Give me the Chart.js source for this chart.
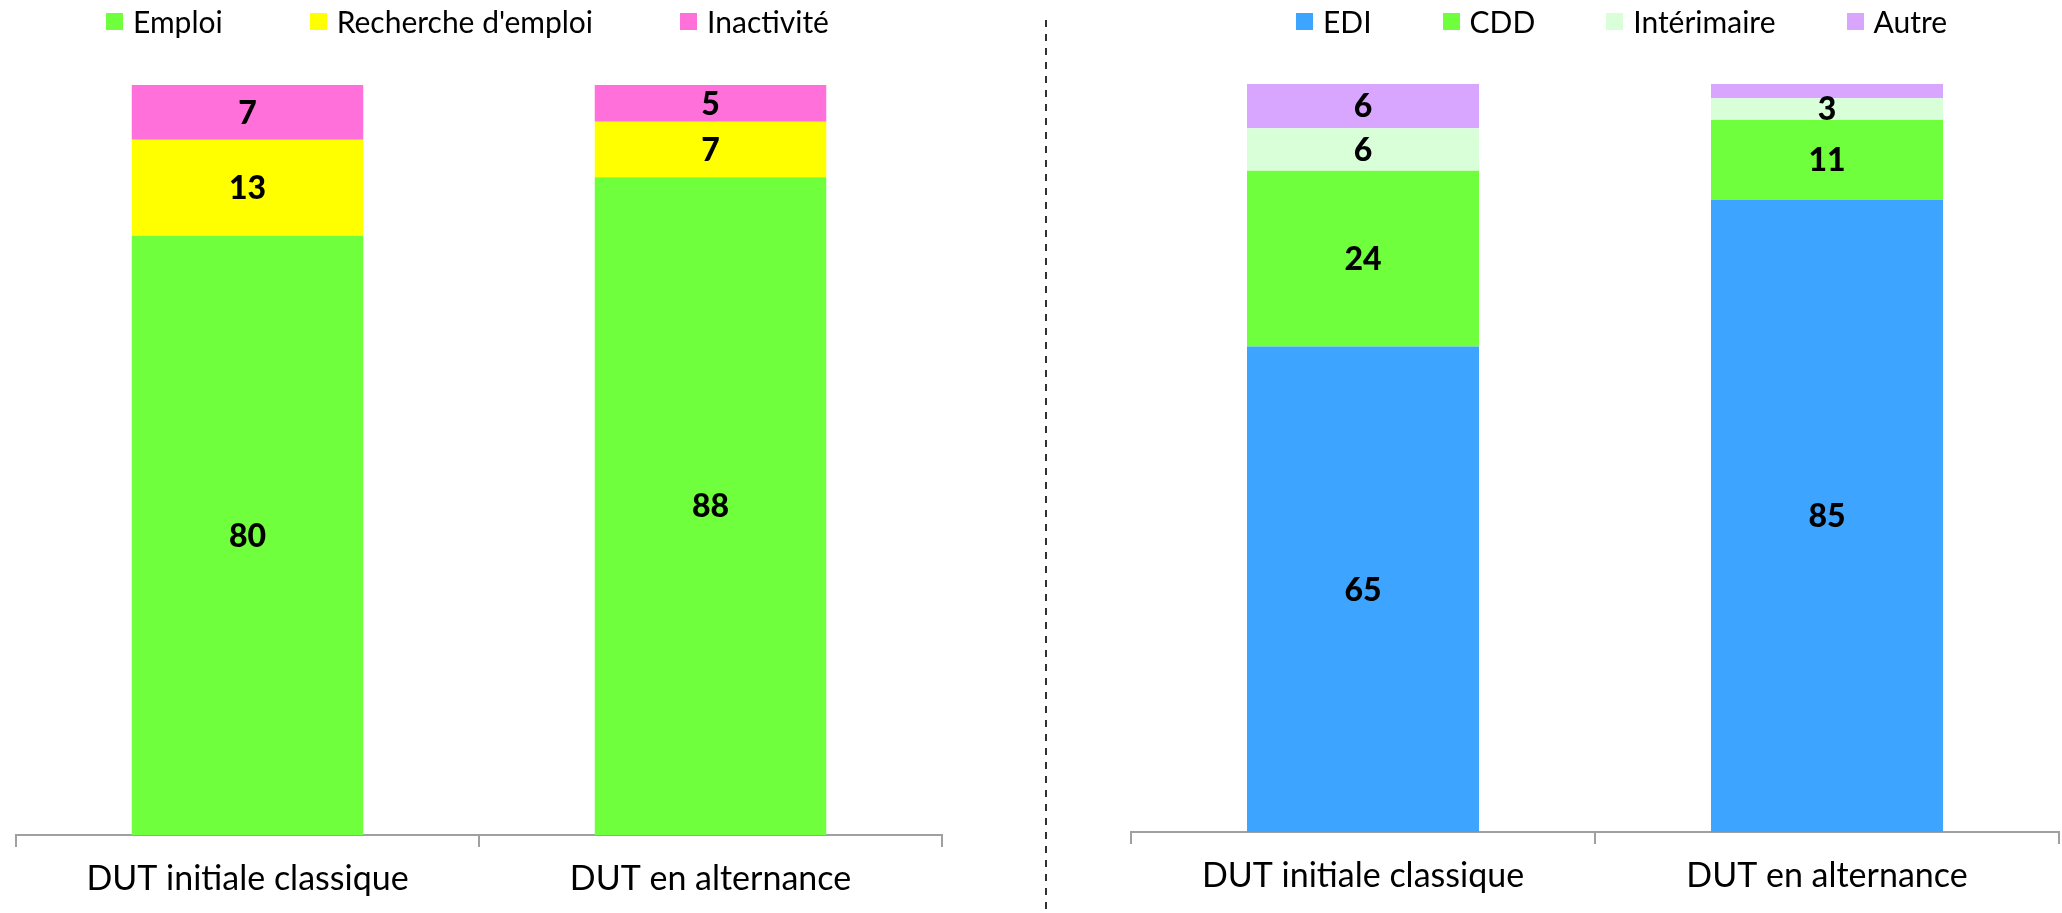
<!DOCTYPE html>
<html lang="fr">
<head>
<meta charset="utf-8">
<title>Situation des diplômés DUT</title>
<script src="https://cdn.jsdelivr.net/npm/chart.js@4.4.1/dist/chart.umd.min.js"></script>
<style>
    html, body { margin: 0; padding: 0; background: #fff; }
    body { width: 2062px; height: 913px; position: relative; overflow: hidden; font-family: Lato, sans-serif; }
    .chart-box { position: absolute; top: 0; height: 913px; }
    #leftBox { left: 0; width: 1046px; }
    #rightBox { left: 1048px; width: 1014px; }
    .divider {
        position: absolute; left: 1045px; top: 20px; width: 2px; height: 893px;
        background: repeating-linear-gradient(to bottom, #303030 0 7px, transparent 7px 14px);
    }
    .legend { position: absolute; top: 0; height: 42px; display: flex; align-items: center; margin: 0; padding: 0; list-style: none; }
    .legend li { display: flex; align-items: center; font-size: 30px; color: #000; white-space: nowrap; }
    .legend .swatch { display: inline-block; width: 17px; height: 17px; margin-right: 10px; }
    #leftLegend { left: 106px; }
    #leftLegend li + li { margin-left: 87px; }
    #rightLegend { left: 1296px; }
    #rightLegend li + li { margin-left: 71px; }
</style>
</head>
<body>
<div class="chart-box" id="leftBox"><canvas id="statusChart"></canvas></div>
<div class="divider"></div>
<div class="chart-box" id="rightBox"><canvas id="contractChart"></canvas></div>
<ul class="legend" id="leftLegend"></ul>
<ul class="legend" id="rightLegend"></ul>

<script>
// Categories (same for both charts)
const categories = ['DUT initiale classique', 'DUT en alternance'];

// Left chart: situation (%)
const emploi = [79.9, 87.7];
const rechercheEmploi = [12.8, 7.4];
const inactivite = [7.3, 4.9];

// Right chart: type de contrat (%)
const edi = [64.9, 84.5];
const cdd = [23.5, 10.7];
const interimaire = [5.7, 2.9];
const autre = [5.9, 1.9];

// Value labels drawn in the middle of each segment
const barValueLabels = {
    id: 'barValueLabels',
    afterDatasetsDraw(chart) {
        const ctx = chart.ctx;
        ctx.save();
        ctx.font = '900 32px Lato';
        ctx.fillStyle = '#000';
        ctx.textAlign = 'center';
        ctx.textBaseline = 'middle';
        chart.data.datasets.forEach((ds, i) => {
            chart.getDatasetMeta(i).data.forEach((bar, j) => {
                const v = ds.data[j];
                if (v < 2.5) return; // too thin to be labelled
                const p = bar.getCenterPoint();
                ctx.fillText(Math.round(v), p.x, p.y + 1);
            });
        });
        ctx.restore();
    }
};

function makeChart(canvasId, datasets, padding, axisHeight) {
    return new Chart(document.getElementById(canvasId), {
        type: 'bar',
        data: {
            labels: categories,
            datasets: datasets.map(d => ({
                label: d.label,
                data: d.data,
                backgroundColor: d.color,
                borderWidth: 0,
                categoryPercentage: 1,
                barPercentage: 0.5
            }))
        },
        options: {
            responsive: true,
            maintainAspectRatio: false,
            animation: false,
            layout: { padding: padding },
            plugins: {
                legend: { display: false },
                tooltip: { enabled: false }
            },
            scales: {
                x: {
                    stacked: true,
                    grid: {
                        drawOnChartArea: false,
                        drawTicks: true,
                        tickLength: 12,
                        color: '#a0a0a0',
                        lineWidth: 2
                    },
                    border: { display: true, color: '#a0a0a0', width: 2 },
                    ticks: {
                        color: '#000',
                        font: { family: 'Lato', size: 34 },
                        padding: 12
                    },
                    afterFit(scale) { scale.height = axisHeight; }
                },
                y: {
                    stacked: true,
                    display: false,
                    min: 0,
                    max: 100
                }
            }
        },
        plugins: [barValueLabels]
    });
}

// HTML legend built from the chart's own legend items
function buildLegend(chart, listId) {
    const ul = document.getElementById(listId);
    const items = chart.options.plugins.legend.labels.generateLabels(chart);
    items.forEach(item => {
        const li = document.createElement('li');
        const box = document.createElement('span');
        box.className = 'swatch';
        box.style.background = item.fillStyle;
        li.appendChild(box);
        li.appendChild(document.createTextNode(item.text));
        ul.appendChild(li);
    });
}

const statusChart = makeChart('statusChart', [
    { label: 'Emploi', data: emploi, color: '#6fff3c' },
    { label: "Recherche d'emploi", data: rechercheEmploi, color: '#ffff00' },
    { label: 'Inactivité', data: inactivite, color: '#ff70db' }
], { top: 85, left: 16, right: 104, bottom: 0 }, 78);

const contractChart = makeChart('contractChart', [
    { label: 'EDI', data: edi, color: '#3da5ff' },
    { label: 'CDD', data: cdd, color: '#6fff3c' },
    { label: 'Intérimaire', data: interimaire, color: '#d9ffd9' },
    { label: 'Autre', data: autre, color: '#d9a6ff' }
], { top: 84, left: 83, right: 3, bottom: 0 }, 81);

buildLegend(statusChart, 'leftLegend');
buildLegend(contractChart, 'rightLegend');
</script>
</body>
</html>
